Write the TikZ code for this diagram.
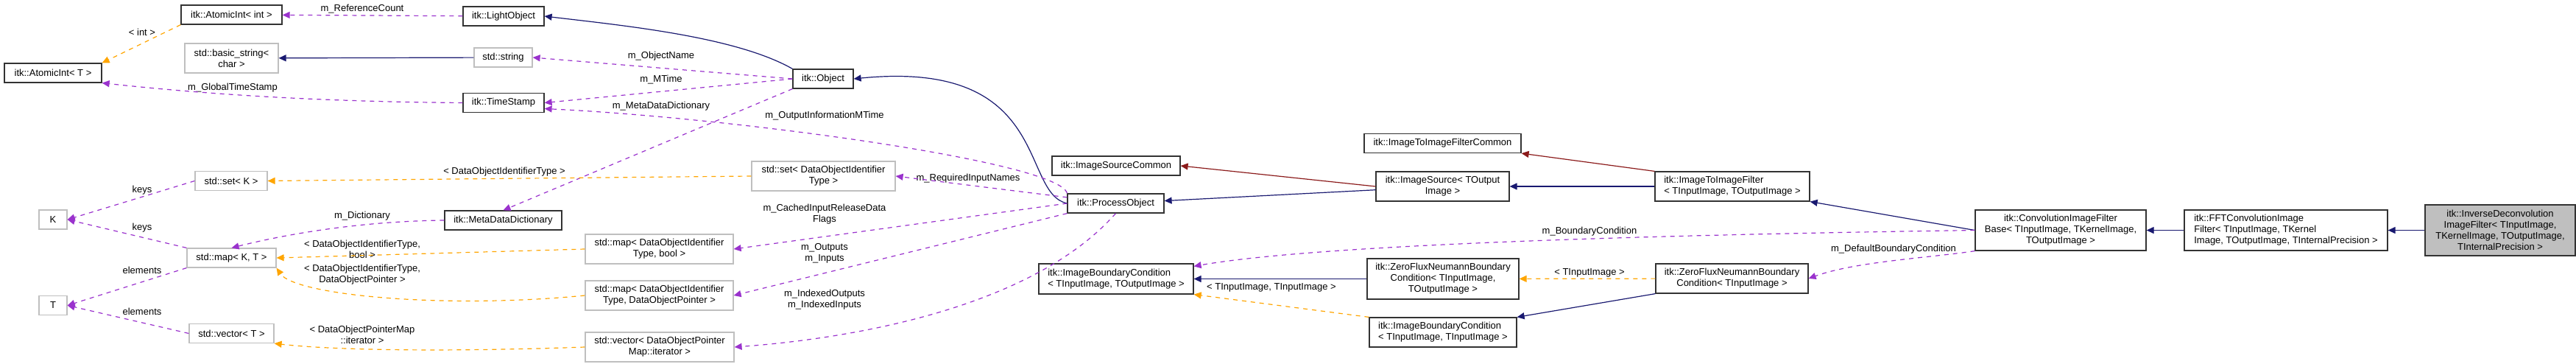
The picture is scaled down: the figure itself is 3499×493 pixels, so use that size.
\documentclass[tikz,border=0pt]{standalone}
\usepackage{fontspec}
\setmainfont{Liberation Sans}
\usepackage{tikz}
\usetikzlibrary{positioning,arrows.meta}
\definecolor{inhblue}{RGB}{25,25,112}
\definecolor{tplred}{RGB}{139,26,26}
\definecolor{usepurple}{RGB}{154,50,205}
\definecolor{tplorange}{RGB}{255,165,0}
\begin{document}
\begin{tikzpicture}[
				x=0.5pt, y=-0.5pt,
				font=\fontsize{6.5}{7.5}\selectfont,
				classnode/.style={rectangle, draw=black!80, line width=0.6pt, align=center, inner sep=1pt, minimum height=13pt},
				extnode/.style={classnode, draw=black!25},
				mainnode/.style={classnode, fill=black!25},
				lbl/.style={align=center, inner sep=0pt},
				inh/.style={->, >={Triangle[length=5pt,width=4.5pt]}, draw=inhblue, line width=0.6pt},
				priv/.style={->, >={Triangle[length=5pt,width=4.5pt]}, draw=tplred, line width=0.6pt},
				uses/.style={->, >={Triangle[length=5pt,width=4.5pt]}, draw=usepurple, dashed, line width=0.6pt},
				tpl/.style={->, >={Triangle[length=5pt,width=4.5pt]}, draw=tplorange, dashed, line width=0.6pt},
				]
				\useasboundingbox (0,0) rectangle (3499,493);
				%Nodes
				\node[classnode, minimum width=68.5pt](atomicInt) at (314.5,20){itk::AtomicInt\textless{} int \textgreater};
				\node[classnode, minimum width=55pt](lightObject) at (684,22){itk::LightObject};
				\node[extnode, minimum width=63.5pt, minimum height=20pt](basicString) at (314.5,79){std::basic\_string\textless\\char \textgreater};
				\node[extnode, minimum width=39.5pt](stdString) at (683.5,78){std::string};
				\node[classnode, minimum width=66pt](atomicIntT) at (72,99){itk::AtomicInt\textless{} T \textgreater};
				\node[classnode, minimum width=55pt](timeStamp) at (684,139.5){itk::TimeStamp};
				\node[extnode, minimum width=49pt](setK) at (314,245.5){std::set\textless{} K \textgreater};
				\node[extnode, minimum width=19pt](keyK) at (72,298){K};
				\node[classnode, minimum width=79.5pt](metaDict) at (683.5,299){itk::MetaDataDictionary};
				\node[extnode, minimum width=60.5pt](mapKT) at (314.5,350){std::map\textless{} K, T \textgreater};
				\node[extnode, minimum width=19pt](elemT) at (72,414.5){T};
				\node[extnode, minimum width=57.5pt](vectorT) at (314.5,452.5){std::vector\textless{} T \textgreater};
				\node[extnode, minimum width=100.5pt, minimum height=20pt](mapBool) at (895.5,338){std::map\textless{} DataObjectIdentifier\\Type, bool \textgreater};
				\node[extnode, minimum width=100.5pt, minimum height=20pt](mapPointer) at (895.5,401){std::map\textless{} DataObjectIdentifier\\Type, DataObjectPointer \textgreater};
				\node[extnode, minimum width=101pt, minimum height=20pt](vectorIter) at (896,471){std::vector\textless{} DataObjectPointer\\Map::iterator \textgreater};
				\node[classnode, minimum width=41pt](object) at (1118,107){itk::Object};
				\node[extnode, minimum width=97.5pt, minimum height=20pt](setIdent) at (1118.5,239){std::set\textless{} DataObjectIdentifier\\Type \textgreater};
				\node[classnode, minimum width=87pt](sourceCommon) at (1516,225){itk::ImageSourceCommon};
				\node[classnode, minimum width=65.5pt](processObject) at (1515.5,276){itk::ProcessObject};
				\node[classnode, minimum width=105pt, minimum height=20.5pt, align=left](boundaryIO) at (1516,378.5){itk::ImageBoundaryCondition\\\textless{} TInputImage, TOutputImage \textgreater};
				\node[classnode, minimum width=106.5pt](filterCommon) at (1959.5,194.5){itk::ImageToImageFilterCommon};
				\node[classnode, minimum width=90.5pt, minimum height=20pt](imageSource) at (1959.5,253){itk::ImageSource\textless{} TOutput\\Image \textgreater};
				\node[classnode, minimum width=105pt, minimum height=20pt, align=left](imageFilter) at (2353,253){itk::ImageToImageFilter\\\textless{} TInputImage, TOutputImage \textgreater};
				\node[classnode, minimum width=103pt, minimum height=27.5pt](zeroFluxIO) at (1960,378.5){itk::ZeroFluxNeumannBoundary\\Condition\textless{} TInputImage,\\TOutputImage \textgreater};
				\node[classnode, minimum width=103.5pt, minimum height=20pt](zeroFluxI) at (2352.5,378){itk::ZeroFluxNeumannBoundary\\Condition\textless{} TInputImage \textgreater};
				\node[classnode, minimum width=100pt, minimum height=20pt, align=left](boundaryII) at (1960,451){itk::ImageBoundaryCondition\\\textless{} TInputImage, TInputImage \textgreater};
				\node[classnode, minimum width=116pt, minimum height=27.5pt](convBase) at (2799,312.5){itk::ConvolutionImageFilter\\Base\textless{} TInputImage, TKernelImage,\\TOutputImage \textgreater};
				\node[classnode, minimum width=138pt, minimum height=27.5pt, align=left](fftConv) at (3105,312.5){itk::FFTConvolutionImage\\Filter\textless{} TInputImage, TKernel\\Image, TOutputImage, TInternalPrecision \textgreater};
				\node[mainnode, minimum width=102pt, minimum height=34.5pt](inverseDeconv) at (3396,312.5){itk::InverseDeconvolution\\ImageFilter\textless{} TInputImage,\\TKernelImage, TOutputImage,\\TInternalPrecision \textgreater};

				%Labels
				\node[lbl](lRefCount) at (492,12){m\_ReferenceCount};
				\node[lbl](lInt) at (193,44){\textless{} int \textgreater};
				\node[lbl](lGlobalTime) at (316,119){m\_GlobalTimeStamp};
				\node[lbl](lObjectName) at (898,76){m\_ObjectName};
				\node[lbl](lMTime) at (898,108){m\_MTime};
				\node[lbl](lMetaDict) at (898,144){m\_MetaDataDictionary};
				\node[lbl](lOutInfo) at (1120,157){m\_OutputInformationMTime};
				\node[lbl](lIdentType) at (685,233){\textless{} DataObjectIdentifierType \textgreater};
				\node[lbl](lKeysSet) at (193,258){keys};
				\node[lbl](lKeysMap) at (193,309){keys};
				\node[lbl](lDictionary) at (492,293){m\_Dictionary};
				\node[lbl](lIdentBool) at (492,338){\textless{} DataObjectIdentifierType,\\bool \textgreater};
				\node[lbl](lIdentPointer) at (492,373){\textless{} DataObjectIdentifierType,\\DataObjectPointer \textgreater};
				\node[lbl](lElemMap) at (193,367){elements};
				\node[lbl](lElemVector) at (193,423){elements};
				\node[lbl](lIterator) at (492,454){\textless{} DataObjectPointerMap\\::iterator \textgreater};
				\node[lbl](lRequired) at (1315,242){m\_RequiredInputNames};
				\node[lbl](lCached) at (1120,291){m\_CachedInputReleaseData\\Flags};
				\node[lbl](lOutputs) at (1120,344){m\_Outputs\\m\_Inputs};
				\node[lbl](lIndexed) at (1120,407){m\_IndexedOutputs\\m\_IndexedInputs};
				\node[lbl](lInputPair) at (1727,390){\textless{} TInputImage, TInputImage \textgreater};
				\node[lbl](lBoundary) at (2159,314){m\_BoundaryCondition};
				\node[lbl](lInputImage) at (2159,370){\textless{} TInputImage \textgreater};
				\node[lbl](lDefault) at (2572,338){m\_DefaultBoundaryCondition};

				%Lines
				\draw[inh] (object.north west) .. controls (1000,50) and (850,35) .. (lightObject.east);
				\draw[inh] (stdString) -- (basicString);
				\draw[inh] (processObject.west) .. controls (1385,262) and (1430,80) .. (object.east);
				\draw[inh] (imageSource) -- (processObject);
				\draw[inh] (imageFilter) -- (imageSource);
				\draw[inh] (convBase.west) -- (imageFilter.south east);
				\draw[inh] (fftConv) -- (convBase);
				\draw[inh] (inverseDeconv) -- (fftConv);
				\draw[inh] (zeroFluxIO) -- (boundaryIO);
				\draw[inh] (zeroFluxI.south west) -- (boundaryII.north east);
				\draw[priv] (imageSource.west) -- (sourceCommon.east);
				\draw[priv] (imageFilter.north west) -- (filterCommon.south east);

				\draw[uses] (lightObject) -- (atomicInt);
				\draw[uses] (timeStamp.west) .. controls (450,138) and (300,130) .. (atomicIntT.south east);
				\draw[uses] (object.west) -- (stdString.east);
				\draw[uses] (object.west) -- (timeStamp.east);
				\draw[uses] (object.south west) -- (metaDict.north);
				\draw[uses] (processObject.north west) .. controls (1440,220) and (1000,160) .. ([yshift=-4pt]timeStamp.east);
				\draw[uses] (processObject) -- (setIdent.east);
				\draw[uses] (processObject.west) -- (mapBool.east);
				\draw[uses] (processObject.south west) -- (mapPointer.east);
				\draw[uses] (processObject.south) .. controls (1400,420) and (1150,460) .. (vectorIter.east);
				\draw[uses] (setK.west) -- (keyK.east);
				\draw[uses] (mapKT.north west) -- (keyK.east);
				\draw[uses] (mapKT.south west) -- (elemT.east);
				\draw[uses] (vectorT.west) -- (elemT.east);
				\draw[uses] (metaDict.west) .. controls (500,300) and (400,315) .. (mapKT.north);
				\draw[uses] (convBase.west) .. controls (2300,318) and (1800,330) .. ([yshift=-2pt]boundaryIO.north east);
				\draw[uses] (convBase.south west) .. controls (2620,350) and (2520,355) .. (zeroFluxI.east);

				\draw[tpl] (atomicInt.south west) -- (atomicIntT.north east);
				\draw[tpl] (setIdent.west) -- (setK.east);
				\draw[tpl] (mapBool.west) -- (mapKT.east);
				\draw[tpl] (mapPointer.west) .. controls (600,420) and (400,400) .. (mapKT.south east);
				\draw[tpl] (vectorIter.west) .. controls (600,478) and (450,475) .. (vectorT.south east);
				\draw[tpl] (zeroFluxI) -- (zeroFluxIO);
				\draw[tpl] (boundaryII.north west) -- (boundaryIO.south east);
			\end{tikzpicture}
\end{document}
